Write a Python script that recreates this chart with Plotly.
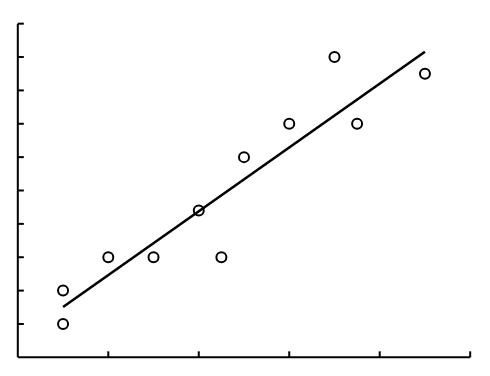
import numpy as np
import plotly.graph_objects as go

x_vals = [1, 1, 2, 3, 4, 4.5, 5, 6, 7, 7.5, 9]
y_vals = [1, 2, 3, 3, 4.4, 3, 6, 7, 9, 7, 8.5]
x_ticks = [0, 2, 4, 6, 8, 10]
y_ticks = [0, 1, 2, 3, 4, 5, 6, 7, 8, 9, 10]

slope, intercept = np.polyfit(x_vals, y_vals, 1)
line_x = [min(x_vals), max(x_vals)]
line_y = [slope * v + intercept for v in line_x]

fig = go.Figure()
fig.add_trace(go.Scatter(x=line_x, y=line_y, mode="lines",
                         line=dict(color="black", width=2.6), showlegend=False))
fig.add_trace(go.Scatter(x=x_vals, y=y_vals, mode="markers",
                         marker=dict(symbol="circle-open", size=10, color="black",
                                     line=dict(width=2, color="black")),
                         showlegend=False, cliponaxis=False))

axis_common = dict(showgrid=False, zeroline=False, showline=False,
                   ticks="", showticklabels=False)
fig.update_xaxes(range=[-0.04, 10.04], **axis_common)
fig.update_yaxes(range=[-0.05, 10.05], **axis_common)

# axis lines and inward ticks
fig.add_shape(type="line", xref="x", yref="y", x0=0, x1=10, y0=0, y1=0,
              line=dict(color="black", width=2))
fig.add_shape(type="line", xref="x", yref="y", x0=0, x1=0, y0=0, y1=10,
              line=dict(color="black", width=2))
for t in x_ticks[1:]:
    fig.add_shape(type="line", xref="x", yref="y domain", x0=t, x1=t,
                  y0=0.005, y1=0.005 + 6 / 337, line=dict(color="black", width=2))
for t in y_ticks[1:]:
    fig.add_shape(type="line", xref="x domain", yref="y", x0=0.004, x1=0.004 + 6 / 455,
                  y0=t, y1=t, line=dict(color="black", width=2))

fig.update_layout(width=490, height=376, margin=dict(l=16, r=18, t=22, b=17),
                  plot_bgcolor="white", paper_bgcolor="white")
fig.write_html("out.html")
